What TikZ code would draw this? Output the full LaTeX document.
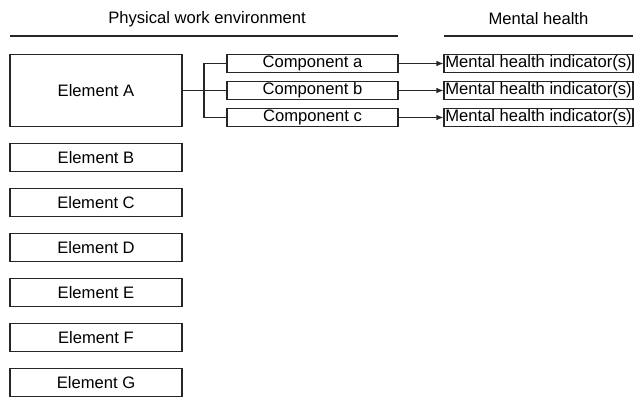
\documentclass[tikz,border=0pt]{standalone}
\usepackage{fontspec}
\setmainfont{Liberation Sans}
\usetikzlibrary{arrows.meta}
\begin{document}
\begin{tikzpicture}[x=1pt,y=-1pt,
  every node/.style={font=\fontsize{16.6}{19}\selectfont, text=black},
  elbox/.style={draw=black!85, line width=1.1pt, inner sep=0pt, minimum width=172pt, minimum height=28pt},
  compbox/.style={draw=black!85, line width=1.1pt, inner sep=0pt, minimum width=171pt, minimum height=18pt},
  mhbox/.style={draw=black!85, line width=1.1pt, inner sep=0pt, minimum width=189pt, minimum height=18pt},
  conn/.style={draw=black!85, line width=1.1pt},
  arr/.style={conn, -{Latex[length=7pt,width=5.5pt]}},
  rule/.style={draw=black!85, line width=1.1pt}]
\useasboundingbox (0,0) rectangle (635,397);
% headings
\node (h1) at (207,19) {Physical work environment};
\node (h2) at (538.5,19) {Mental health};
\coordinate (r1a) at (10,36); \coordinate (r1b) at (398,36);
\coordinate (r2a) at (444,36); \coordinate (r2b) at (633,36);
\draw[rule] (r1a) -- (r1b);
\draw[rule] (r2a) -- (r2b);
% elements
\node[elbox, minimum height=72pt] (A) at (96,90.5) {Element A};
\node[elbox] (B) at (96,157.5) {Element B};
\node[elbox] (C) at (96,202.5) {Element C};
\node[elbox] (D) at (96,247.5) {Element D};
\node[elbox] (E) at (96,292.5) {Element E};
\node[elbox] (F) at (96,337.5) {Element F};
\node[elbox] (G) at (96,382.5) {Element G};
% components
\node[compbox] (ca) at (312.5,63.5) {Component a};
\node[compbox] (cb) at (312.5,90.5) {Component b};
\node[compbox] (cc) at (312.5,117.5) {Component c};
% mental health indicators
\node[mhbox] (ma) at (538.5,63.5) {Mental health indicator(s)};
\node[mhbox] (mb) at (538.5,90.5) {Mental health indicator(s)};
\node[mhbox] (mc) at (538.5,117.5) {Mental health indicator(s)};
% connectors
\coordinate (j) at (204,90.5);
\draw[conn] (A.east) -- (j);
\draw[conn] (ca.west) -| (j) |- (cc.west);
\draw[conn] (j) -- (cb.west);
\draw[arr] (ca.east) -- (ma.west);
\draw[arr] (cb.east) -- (mb.west);
\draw[arr] (cc.east) -- (mc.west);
\end{tikzpicture}
\end{document}
